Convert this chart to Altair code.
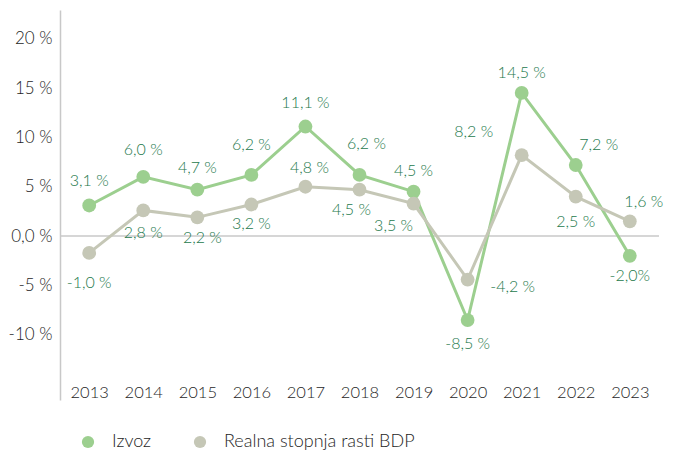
import altair as alt
import pandas as pd

years = [2013, 2014, 2015, 2016, 2017, 2018, 2019, 2020, 2021, 2022, 2023]
izvoz_values = [3.1, 6.0, 4.7, 6.2, 11.1, 6.2, 4.5, -8.5, 14.5, 7.2, -2.0]
izvoz_labels = ["3,1 %", "6,0 %", "4,7 %", "6,2 %", "11,1 %", "6,2 %", "4,5 %", "-8,5 %", "14,5 %", "7,2 %", "-2,0%"]
bdp_values = [-1.7, 2.6, 1.9, 3.2, 5.0, 4.7, 3.3, -4.4, 8.2, 4.0, 1.5]
bdp_labels = ["-1,0 %", "2,8 %", "2,2 %", "3,2 %", "4,8 %", "4,5 %", "3,5 %", "-4,2 %", "8,2 %", "2,5 %", "1,6 %"]
series_names = ["Izvoz", "Realna stopnja rasti BDP"]
y_ticks = [20, 15, 10, 5, 0, -5, -10]

# label placement (pixel offsets) - layout only
izvoz_dx = [0, 0, 0, 0, 0, 7, 0, 0, 0, 23, 0]
izvoz_dy = [-24, -27, -22, -30, -24, -31, -21, 24, -20, -20, 20]
bdp_dx = [0, 0, 5, 0, 4, -8, -20, 45, -48, 0, 14]
bdp_dy = [30, 23, 21, 19, -19, 20, 22, 7, -23, 25, -19]

GREEN = "#9ccf8f"
GREY = "#c5c7b6"
TEXT_GREEN = "#24794c"
AXIS_TEXT = "#1e1e1e"
FONT = "Lato"
WEIGHT = 300

W, H = 599, 390
X_PAD = 0.54
X_DOM = [years[0] - X_PAD, years[-1] + X_PAD]
Y_DOM = [-16.6, 22.9]
PX_X = W / (X_DOM[1] - X_DOM[0])
PX_Y = H / (Y_DOM[1] - Y_DOM[0])

rows = []
for name, vals, labs, dxs, dys in [
    (series_names[0], izvoz_values, izvoz_labels, izvoz_dx, izvoz_dy),
    (series_names[1], bdp_values, bdp_labels, bdp_dx, bdp_dy),
]:
    for i, yr in enumerate(years):
        rows.append({"year": yr, "series": name, "value": vals[i], "label": labs[i],
                     "lx": yr + dxs[i] / PX_X, "ly": vals[i] - dys[i] / PX_Y})
df = pd.DataFrame(rows)

x_scale = alt.Scale(domain=X_DOM, nice=False, zero=False)
y_scale = alt.Scale(domain=Y_DOM, nice=False, zero=False)

x_enc = alt.X("year:Q", scale=x_scale,
              axis=alt.Axis(title=None, domain=False, ticks=False, values=years, format="d",
                            labelPadding=-16, labelFontSize=16.5, labelColor=AXIS_TEXT,
                            labelFont=FONT, labelFontWeight=WEIGHT, grid=False, labelFlush=False))
y_enc = alt.Y("value:Q", scale=y_scale,
              axis=alt.Axis(title=None, values=y_ticks, ticks=False, grid=False,
                            domainColor="#c8c8c8", domainWidth=1.5,
                            labelFontSize=17, labelColor=AXIS_TEXT, labelFont=FONT,
                            labelFontWeight=WEIGHT, labelPadding=8,
                            labelExpr="datum.value == 0 ? '0,0 %' : datum.value + ' %'"))
color_enc = alt.Color("series:N", scale=alt.Scale(domain=series_names, range=[GREEN, GREY]),
                      legend=alt.Legend(title=None, orient="none", legendX=19, legendY=423,
                                        direction="horizontal", symbolType="circle",
                                        symbolSize=150, symbolStrokeWidth=0,
                                        labelFontSize=18, labelColor=AXIS_TEXT, labelFont=FONT,
                                        labelFontWeight=WEIGHT, labelLimit=0,
                                        labelOffset=15, columnPadding=39))

base = alt.Chart(df)

zero_line = alt.Chart(pd.DataFrame({"z": [0]})).mark_rule(color="#c8c8c8", strokeWidth=1.5).encode(
    y=alt.Y("z:Q", scale=y_scale)
)

lines = base.mark_line(strokeWidth=3).encode(
    x=x_enc, y=y_enc, color=color_enc, detail="series:N"
)
points = base.mark_circle(size=190, opacity=1).encode(
    x=x_enc, y=y_enc, color=color_enc
)
labels = base.mark_text(fontSize=16, color=TEXT_GREEN, font=FONT, fontWeight=WEIGHT).encode(
    x=alt.X("lx:Q", scale=x_scale),
    y=alt.Y("ly:Q", scale=y_scale),
    text="label:N",
)

chart = alt.layer(zero_line, lines, points, labels).properties(
    width=W, height=H,
    padding={"left": 52, "top": 2, "right": 6, "bottom": 52},
    autosize=alt.AutoSizeParams(type="none"),
).configure(font=FONT).configure_view(strokeWidth=0, stroke="transparent")

chart.save("out.html", embed_options={"renderer": "svg", "actions": False})
